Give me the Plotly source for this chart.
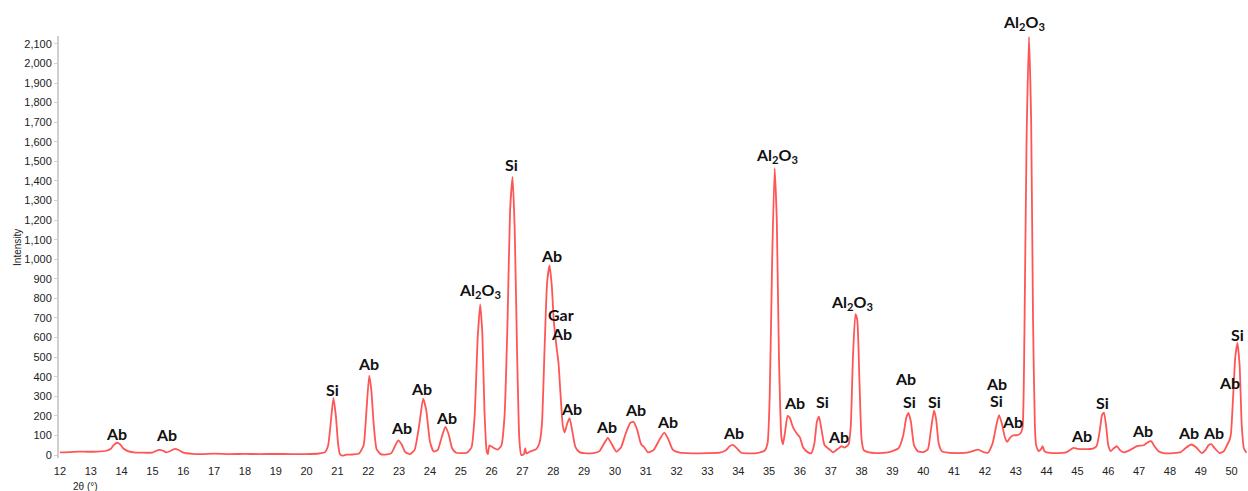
import plotly.graph_objects as go

two_theta = [
    12.0, 12.3, 12.6, 12.9, 13.2, 13.5, 13.65, 13.75, 13.85, 13.95, 14.05, 14.2, 14.4, 14.7,
    15.0, 15.1, 15.22, 15.35, 15.45, 15.6, 15.72, 15.85, 16.0, 16.3, 16.6, 17.0, 17.5, 18.0,
    18.5, 19.0, 19.5, 20.0, 20.4, 20.6, 20.7, 20.78, 20.87, 20.95, 21.02, 21.08, 21.15, 21.3,
    21.5, 21.7, 21.85, 21.93, 22.03, 22.1, 22.18, 22.27, 22.4, 22.6, 22.75, 22.85, 22.97,
    23.08, 23.2, 23.35, 23.5, 23.65, 23.78, 23.88, 24.0, 24.12, 24.25, 24.38, 24.5, 24.6,
    24.72, 24.85, 25.0, 25.2, 25.35, 25.45, 25.55, 25.63, 25.7, 25.77, 25.84, 25.88, 25.93,
    26.05, 26.2, 26.32, 26.42, 26.52, 26.6, 26.68, 26.75, 26.83, 26.9, 26.96, 27.05, 27.09,
    27.13, 27.25, 27.45, 27.55, 27.63, 27.72, 27.8, 27.88, 27.95, 28.02, 28.1, 28.17, 28.24,
    28.31, 28.37, 28.45, 28.53, 28.62, 28.72, 28.85, 29.0, 29.3, 29.5, 29.65, 29.77, 29.9,
    30.05, 30.2, 30.35, 30.5, 30.6, 30.72, 30.85, 30.95, 31.07, 31.25, 31.45, 31.6, 31.72,
    31.88, 32.1, 32.5, 33.0, 33.4, 33.6, 33.72, 33.83, 33.95, 34.1, 34.3, 34.6, 34.85, 34.95,
    35.02, 35.1, 35.18, 35.25, 35.32, 35.4, 35.45, 35.52, 35.6, 35.67, 35.78, 35.9, 36.0,
    36.1, 36.25, 36.37, 36.47, 36.55, 36.62, 36.7, 36.8, 36.95, 37.07, 37.2, 37.35, 37.45,
    37.58, 37.65, 37.72, 37.8, 37.86, 37.93, 38.0, 38.07, 38.2, 38.5, 38.8, 39.0, 39.2,
    39.35, 39.45, 39.52, 39.6, 39.7, 39.82, 40.0, 40.15, 40.25, 40.35, 40.42, 40.5, 40.6,
    40.8, 41.1, 41.4, 41.6, 41.78, 41.95, 42.1, 42.25, 42.38, 42.46, 42.55, 42.65, 42.72,
    42.8, 42.9, 43.05, 43.15, 43.22, 43.28, 43.35, 43.43, 43.5, 43.56, 43.62, 43.66, 43.74,
    43.82, 43.87, 43.93, 44.0, 44.3, 44.6, 44.75, 44.87, 45.0, 45.3, 45.5, 45.62, 45.72,
    45.8, 45.86, 45.93, 46.0, 46.08, 46.18, 46.28, 46.38, 46.5, 46.7, 46.93, 47.15, 47.28,
    47.39, 47.5, 47.63, 47.8, 48.1, 48.35, 48.5, 48.69, 48.85, 49.03, 49.15, 49.25, 49.34,
    49.45, 49.61, 49.75, 49.85, 49.93, 49.98, 50.05, 50.12, 50.19, 50.26, 50.33, 50.4, 50.48,
]
intensity = [
    14, 15, 18, 17, 18, 22, 32, 52, 63, 55, 35, 20, 14, 12,
    13, 20, 27, 22, 14, 22, 32, 26, 12, 6, 5, 7, 5, 6,
    5, 6, 5, 5, 8, 15, 50, 160, 292, 200, 60, 5, -3, 2,
    3, 8, 50, 200, 405, 330, 150, 30, 5, 3, 10, 40, 75,
    55, 15, 5, 25, 150, 288, 230, 70, 18, 25, 90, 144, 110,
    35, 12, 10, 12, 40, 200, 600, 770, 620, 220, 20, 5, 50,
    38, 28, 50, 200, 700, 1250, 1420, 1150, 500, 80, 0, 5, 35,
    8, 18, 30, 60, 150, 550, 880, 968, 870, 680, 560, 470, 300,
    150, 115, 160, 188, 120, 40, 15, 10, 10, 20, 60, 88, 55,
    17, 40, 110, 165, 170, 130, 55, 40, 14, 25, 80, 115, 85,
    26, 12, 9, 10, 12, 25, 45, 52, 35, 12, 9, 10, 22, 60,
    300, 1000, 1465, 1200, 500, 90, 55, 120, 200, 190, 140, 110, 90,
    40, 15, 10, 60, 170, 196, 130, 50, 30, 14, 28, 45, 38,
    55, 150, 500, 720, 690, 380, 80, 25, 15, 10, 12, 20, 35,
    100, 190, 215, 170, 50, 20, 15, 30, 130, 228, 180, 60, 20,
    12, 10, 12, 20, 28, 15, 12, 60, 160, 204, 160, 90, 68,
    85, 100, 102, 110, 140, 600, 1600, 2135, 1700, 700, 150, 51, 20,
    30, 45, 20, 14, 10, 12, 25, 37, 32, 30, 33, 45, 120,
    205, 217, 150, 50, 20, 35, 45, 25, 14, 25, 46, 50, 65,
    71, 45, 20, 10, 10, 15, 35, 54, 40, 10, 25, 50, 56,
    35, 10, 20, 50, 75, 110, 300, 500, 573, 460, 150, 35, 12,
]

# Phase labels: text, 2-theta position, intensity position
label_text = [
    "Ab", "Ab", "Si", "Ab", "Ab", "Ab", "Ab", "Al<sub>2</sub>O<sub>3</sub>", "Si", "Ab",
    "Gar", "Ab", "Ab", "Ab", "Ab", "Ab", "Ab", "Al<sub>2</sub>O<sub>3</sub>", "Ab", "Si",
    "Ab", "Al<sub>2</sub>O<sub>3</sub>", "Ab", "Si", "Si", "Ab", "Si", "Ab",
    "Ab", "Si", "Ab", "Ab", "Ab", "Ab", "Si",
]
label_x = [
    13.85, 15.47, 20.85, 22.02, 23.09, 23.74, 24.55, 25.62, 26.63, 27.93,
    28.25, 28.28, 28.6, 29.74, 30.68, 31.72, 33.83, 35.26, 35.84, 36.72,
    37.24, 37.69, 39.41, 39.54, 40.38, 42.39, 42.39, 42.91,
    45.12, 45.8, 47.1, 48.59, 49.4, 49.92, 50.18,
]
label_y = [
    112, 107, 337, 470, 143, 342, 194, 838, 1486, 1021,
    720, 623, 240, 148, 235, 169, 117, 1532, 266, 271,
    97, 781, 393, 276, 276, 368, 281, 169,
    102, 266, 128, 117, 117, 373, 618,
]
# Label above the tallest peak (sits above the plotting area)
top_label_text = "Al<sub>2</sub>O<sub>3</sub>"
top_label_x = 43.27

y_ticks = list(range(0, 2101, 100))
x_ticks = list(range(12, 51))

fig = go.Figure()
fig.add_trace(go.Scatter(
    x=two_theta, y=intensity, mode="lines",
    line=dict(color="#ff5555", width=1.8, shape="spline", smoothing=0.5),
    showlegend=False, hoverinfo="skip",
))

for t, lx, ly in zip(label_text, label_x, label_y):
    fig.add_annotation(
        x=lx, y=ly, xref="x", yref="y", text="<b>" + t + "</b>",
        showarrow=False, xanchor="center", yanchor="middle",
        font=dict(family="Lato", size=16, color="#111111"),
    )

fig.add_annotation(
    x=top_label_x, y=1.031, xref="x", yref="paper", text="<b>" + top_label_text + "</b>",
    showarrow=False, xanchor="center", yanchor="middle",
    font=dict(family="Lato", size=16, color="#111111"),
)

fig.add_annotation(
    x=-0.0354, y=0.5, xref="paper", yref="paper", text="Intensity", textangle=-90,
    showarrow=False, xanchor="center", yanchor="middle",
    font=dict(family="Liberation Sans", size=10, color="#222222"),
)
fig.add_annotation(
    x=0.022, y=-0.0687, xref="paper", yref="paper", text="2θ (°)",
    showarrow=False, xanchor="center", yanchor="middle",
    font=dict(family="Liberation Sans", size=10, color="#222222"),
)

fig.update_layout(
    width=1248, height=491,
    margin=dict(l=59, r=1, t=36, b=33),
    plot_bgcolor="white", paper_bgcolor="white",
    xaxis=dict(
        range=[11.97, 50.5], tickvals=x_ticks, ticktext=[str(v) for v in x_ticks],
        showgrid=False, zeroline=False, showline=False,
        ticks="outside", ticklen=3, tickcolor="rgba(0,0,0,0)",
        tickfont=dict(family="Liberation Sans", size=11, color="#222222"),
    ),
    yaxis=dict(
        range=[-15, 2140], tickvals=y_ticks, tickformat=",",
        showgrid=False, zeroline=False,
        showline=True, linecolor="#d0d0d0", linewidth=2,
        ticks="outside", ticklen=3, tickcolor="#d0d0d0",
        tickfont=dict(family="Liberation Sans", size=11, color="#222222"),
    ),
)

fig.write_html("out.html")
